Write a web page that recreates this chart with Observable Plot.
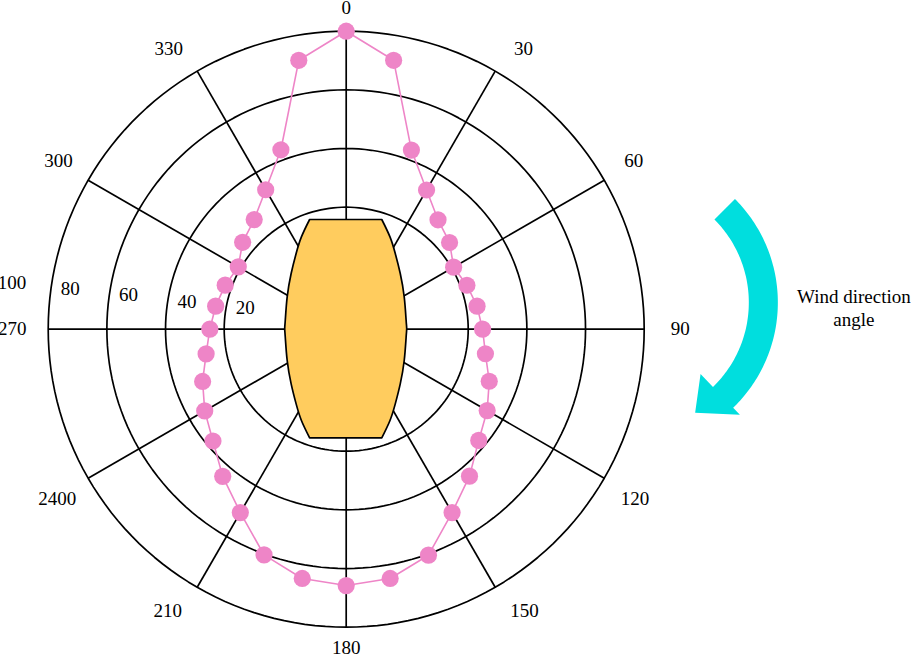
<!DOCTYPE html>
<html>
<head>
<meta charset="utf-8">
<script src="https://cdn.jsdelivr.net/npm/d3@7"></script>
<script src="https://cdn.jsdelivr.net/npm/@observablehq/plot@0.6"></script>
<style>
  html, body { margin: 0; padding: 0; background: #ffffff; }
  #chart svg { display: block; }
</style>
</head>
<body>
<div id="chart"></div>
<script>
// ---- data ----
const directionAngles = [0,10,20,30,40,50,60,70,80,90,100,110,120,130,140,150,160,170,
                         180,190,200,210,220,230,240,250,260,270,280,290,300,310,320,330,340,350];
const coefficientValues = [100,91.5,63.4,53.2,47.1,44.4,40.7,42.2,43.7,44.9,46.6,50.3,53.9,57.4,63.8,70.6,80.4,84.7,
                           85.8,84.7,80.3,70.6,63.9,57.7,54.1,50.5,46.9,44.9,43.6,42.3,40.9,44.5,47.2,53.3,63.5,91.5];
const ringValues = [40, 60, 80, 100];
const radialTickValues = [20, 40, 60, 80, 100];
const radialTickLabels = ["20", "40", "60", "80", "100"];
const spokeAngles = [0, 30, 60, 90, 120, 150, 180, 210, 240, 270, 300, 330];
const angleTickLabels = ["0", "30", "60", "90", "120", "150", "180", "210", "2400", "270", "300", "330"];
// building cross-section outline (half profile, chart units from the centre)
const buildingY = [0, 2.9, 10.84, 18.82, 25.64, 31.3, 37.23];
const buildingHalfWidth = [20.8, 20.6, 19.95, 18.6, 16.9, 15.1, 12.3];
const annotationText = "Wind direction\nangle";

// ---- geometry helpers ----
const PX = 2.933;            // pixels per chart unit
const R0 = 1.6;              // radial offset of value 0
const rad = v => v + R0;
const RADS = Math.PI / 180;
const polar = (deg, r) => ({x: r * Math.sin(deg * RADS), y: r * Math.cos(deg * RADS)});

const pink = "#EE85C7", orange = "#FFCC5E", cyan = "#00DEDE";

// rings
const ringPts = [];
for (const v of ringValues) for (let a = 0; a <= 360; a += 2) ringPts.push({ring: v, ...polar(a, rad(v))});
// spokes
const spokes = spokeAngles.map(a => ({a, ...polar(a, rad(100))}));
// series (closed loop)
const series = directionAngles.map((a, i) => ({a, v: coefficientValues[i], ...polar(a, rad(coefficientValues[i]))}));
const loop = [...series, series[0]];
// angle labels, placed just outside the outer ring
const angleLabelData = spokeAngles.map((a, i) => {
  const c = Math.cos(a * RADS);
  const s = Math.pow(Math.abs(Math.sin(a * RADS)), 0.25);
  const r = 319 + 15 * s + 3 * Math.max(0, -c) * s + 2 * Math.max(0, c) * (1 - s);
  const a2 = a + 1.1 * Math.sin(2 * a * RADS) + 1.56 * Math.sin(4 * a * RADS);
  return {label: angleTickLabels[i], ...polar(a2, r / PX)};
});
// radial labels
const radialLabelData = radialTickValues.map((v, i) => ({label: radialTickLabels[i], ...polar(276, rad(v) + 13)}));
// building
const building = [];
for (let i = buildingY.length - 1; i >= 0; i--) building.push({y: -buildingY[i], hw: buildingHalfWidth[i]});
for (let i = 1; i < buildingY.length; i++) building.push({y: buildingY[i], hw: buildingHalfWidth[i]});

// curved arrow (wind direction)
const arrowC = {x: 97.27, y: 9.10}, Ro = 49.9, Ri = 40.0;
const pt = (deg, r) => ({x: arrowC.x + r * Math.cos(deg * RADS), y: arrowC.y + r * Math.sin(deg * RADS)});
const arrow = [];
for (let a = 45; a >= -46; a -= 1) arrow.push(pt(a, Ro));
arrow.push(pt(-46, 53.2), pt(-60, 43.4), pt(-46, 33.9));
for (let a = -46; a <= 45; a += 1) arrow.push(pt(a, Ri));
arrow.push(arrow[0]);

const cx = 345.7, cy = 328.7, W = 913, H = 654;

const chart = Plot.plot({
  width: W, height: H, margin: 0,
  x: {domain: [-cx / PX, (W - cx) / PX], axis: null},
  y: {domain: [-(H - cy) / PX, cy / PX], axis: null},
  style: {background: "#ffffff", fontFamily: "Liberation Serif, Times New Roman, serif"},
  marks: [
    Plot.line(ringPts, {x: "x", y: "y", z: "ring", stroke: "#000", strokeWidth: 1.7}),
    Plot.link(spokes, {x1: 0, y1: 0, x2: "x", y2: "y", stroke: "#000", strokeWidth: 1.7}),
    Plot.areaX(building, {y: "y", x1: d => -d.hw, x2: d => d.hw, fill: orange, stroke: "#000",
                          strokeWidth: 1.7, strokeLinejoin: "round", curve: "natural"}),
    Plot.line(loop, {x: "x", y: "y", stroke: pink, strokeWidth: 1.6}),
    Plot.dot(series, {x: "x", y: "y", r: 8.6, fill: pink, stroke: "none"}),
    Plot.text(angleLabelData, {x: "x", y: "y", text: "label", fontSize: 19, fill: "#000"}),
    Plot.text(radialLabelData, {x: "x", y: "y", text: "label", fontSize: 19, dy: -11, fill: "#000"}),
    Plot.line(arrow, {x: "x", y: "y", fill: cyan, stroke: "none"}),
    Plot.text([annotationText], {x: 173.1, y: 7.5, text: d => d, fontSize: 19, lineHeight: 1.23, fill: "#000"})
  ]
});
document.getElementById("chart").appendChild(chart);
</script>
</body>
</html>
